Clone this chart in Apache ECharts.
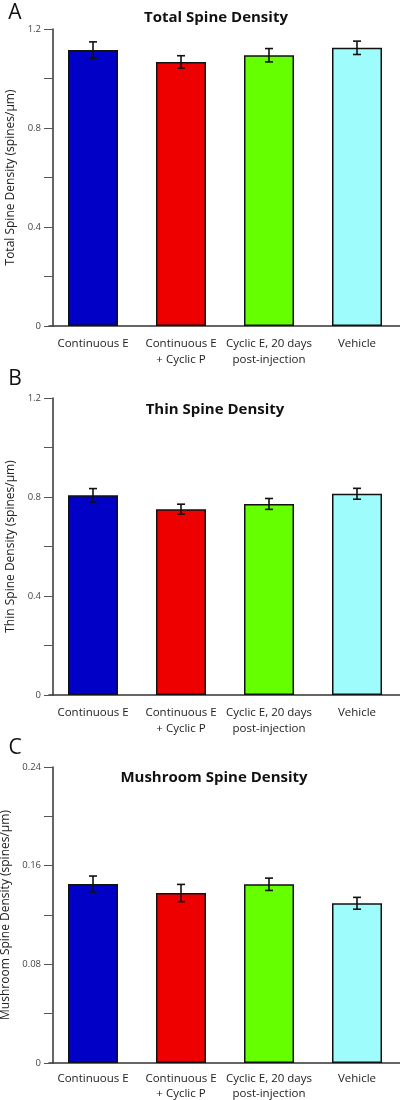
<!DOCTYPE html>
<html>
<head>
<meta charset="utf-8">
<script src="https://cdn.jsdelivr.net/npm/echarts@6/dist/echarts.min.js"></script>
<style>
html,body{margin:0;padding:0;background:#fff;}
#chart{width:400px;height:1100px;}
</style>
</head>
<body>
<div id="chart"></div>
<script>
// ---- data ----
const categories = ['Continuous E', 'Continuous E\n+ Cyclic P', 'Cyclic E, 20 days\npost-injection', 'Vehicle'];
const barColors = ['#0000c6', '#ee0000', '#66ff00', '#9ffcfc'];

const totalMeans = [1.115, 1.067, 1.094, 1.124];
const totalErr   = [0.033, 0.025, 0.027, 0.027];

const thinMeans = [0.807, 0.751, 0.772, 0.813];
const thinErr   = [0.027, 0.020, 0.022, 0.022];

const mushMeans = [0.1451, 0.1378, 0.1449, 0.1295];
const mushErr   = [0.0065, 0.0070, 0.0050, 0.0048];

const panelTitles = ['Total Spine Density', 'Thin Spine Density', 'Mushroom Spine Density'];
const panelLetters = ['A', 'B', 'C'];
const yNames = ['Total Spine Density (spines/\u03bcm)', 'Thin Spine Density (spines/\u03bcm)', 'Mushroom Spine Density (spines/\u03bcm)'];
const yMax = [1.2, 1.2, 0.24];
const yInterval = [0.2, 0.2, 0.04];
const yLabelDigits = [1, 1, 2];

const panels = [
  {means: totalMeans, err: totalErr},
  {means: thinMeans, err: thinErr},
  {means: mushMeans, err: mushErr}
];

// ---- layout ----
const gridTops = [29, 398, 767];
const gridHeights = [297, 297, 296];
const titleY = [18, 410, 778];
const titleX = [216, 215, 214];
const letterY = [13, 379, 748];
const xLabelMargin = [10, 10, 8];
const xLabelLineHeight = [16, 16, 15];

const FONT = '"Open Sans", sans-serif';

const chart = echarts.init(document.getElementById('chart'), null, {renderer: 'canvas'});

function renderErr(params, api) {
  const x = api.value(0), m = api.value(1), e = api.value(2);
  const top = api.coord([x, m + e]);
  const bot = api.coord([x, m - e]);
  const hw = 4;
  const style = {stroke: '#111', lineWidth: 1.6, fill: null};
  return {
    type: 'group',
    children: [
      {type: 'line', shape: {x1: top[0], y1: top[1], x2: bot[0], y2: bot[1]}, style: style},
      {type: 'line', shape: {x1: top[0] - hw, y1: top[1], x2: top[0] + hw, y2: top[1]}, style: style},
      {type: 'line', shape: {x1: bot[0] - hw, y1: bot[1], x2: bot[0] + hw, y2: bot[1]}, style: style}
    ]
  };
}

const grid = [], xAxis = [], yAxis = [], series = [], graphic = [];

panels.forEach((p, i) => {
  grid.push({left: 49, width: 352, top: gridTops[i], height: gridHeights[i], containLabel: false, outerBoundsMode: 'none'});
  xAxis.push({
    type: 'category',
    gridIndex: i,
    data: categories,
    axisLine: {lineStyle: {color: '#333', width: 1.5}},
    axisTick: {show: false},
    axisLabel: {
      color: '#222', fontSize: 11.5, fontFamily: FONT, margin: xLabelMargin[i], lineHeight: xLabelLineHeight[i], interval: 0
    },
    splitLine: {show: false}
  });
  const iv = yInterval[i];
  yAxis.push({
    type: 'value',
    gridIndex: i,
    min: 0,
    max: yMax[i],
    interval: iv,
    offset: -4,
    name: yNames[i],
    nameLocation: 'middle',
    nameRotate: 90,
    nameGap: 35,
    nameTextStyle: {color: '#222', fontSize: 12, fontFamily: FONT},
    axisLine: {show: true, lineStyle: {color: '#333', width: 1.5}},
    axisTick: {show: true, length: 9, lineStyle: {color: '#555', width: 1}},
    axisLabel: {
      color: '#444', fontSize: 9.5, fontFamily: FONT, margin: 12,
      formatter: function (v) {
        const k = Math.round(v / iv);
        if (k % 2 !== 0) return '';
        if (v === 0) return '0';
        return v.toFixed(yLabelDigits[i]);
      }
    },
    splitLine: {show: false}
  });
  series.push({
    type: 'bar',
    xAxisIndex: i,
    yAxisIndex: i,
    barWidth: 50,
    data: p.means.map((v, j) => ({
      value: v,
      itemStyle: {color: barColors[j], borderColor: '#111', borderWidth: 1.5}
    })),
    animation: false
  });
  series.push({
    type: 'custom',
    xAxisIndex: i,
    yAxisIndex: i,
    renderItem: renderErr,
    data: p.means.map((v, j) => [j, v, p.err[j]]),
    z: 10,
    animation: false
  });
  graphic.push({
    type: 'text',
    x: titleX[i], y: titleY[i],
    style: {
      text: panelTitles[i], fill: '#111',
      font: 'bold 15px ' + FONT,
      textAlign: 'center', textVerticalAlign: 'middle'
    }
  });
  graphic.push({
    type: 'text',
    x: 15, y: letterY[i],
    style: {
      text: panelLetters[i], fill: '#111',
      font: '21px ' + FONT,
      textAlign: 'center', textVerticalAlign: 'middle'
    }
  });
});

chart.setOption({
  animation: false,
  grid: grid,
  xAxis: xAxis,
  yAxis: yAxis,
  series: series,
  graphic: graphic
});
</script>
</body>
</html>
